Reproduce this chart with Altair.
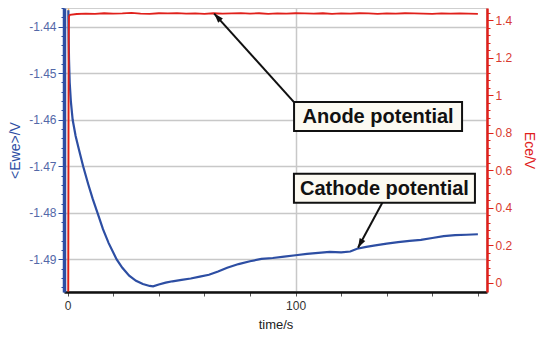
import altair as alt
import pandas as pd

# Cathode potential <Ewe>/V (left axis)
cat_t = [0.3, 0.4, 0.6, 0.9, 1.4, 2.2, 3.5, 5, 6.8, 9, 11, 13.1, 15.5, 18, 21.5, 24, 27, 30, 33, 36,
         37.5, 40, 43, 46, 50, 54, 58, 62, 66, 70, 75, 80, 85, 90, 95, 100, 105, 110, 115, 120,
         124, 127, 131, 135, 140, 145, 150, 155, 160, 165, 170, 175, 180]
cat_v = [-1.4365, -1.441, -1.447, -1.452, -1.456, -1.460, -1.4635, -1.4665, -1.470, -1.4738,
         -1.477, -1.480, -1.4835, -1.4865, -1.490, -1.4918, -1.4935, -1.4946, -1.4953, -1.4957,
         -1.4958, -1.4954, -1.4950, -1.4947, -1.4944, -1.4941, -1.4937, -1.4933, -1.4926, -1.4918,
         -1.4910, -1.4904, -1.4899, -1.4897, -1.4894, -1.4891, -1.4888, -1.4886, -1.4884, -1.4885,
         -1.4883, -1.4877, -1.4873, -1.4870, -1.4866, -1.4863, -1.4860, -1.4858, -1.4854, -1.4850,
         -1.4848, -1.4847, -1.4846]

# Anode potential Ece/V (right axis)
an_t = [0.25, 0.35, 0.45, 0.6, 1, 4, 8, 12, 16, 20, 24, 28, 32, 36, 40, 44, 48, 52, 56, 60,
        64, 68, 72, 76, 80, 84, 88, 92, 96, 100, 104, 108, 112, 116, 120, 124, 128, 132, 136, 140,
        144, 148, 152, 156, 160, 164, 168, 172, 176, 180]
an_v = [-0.045, 0.6, 1.30, 1.42, 1.428, 1.432, 1.434, 1.433, 1.436, 1.434, 1.435, 1.438, 1.434, 1.433,
        1.436, 1.435, 1.437, 1.434, 1.435, 1.433, 1.436, 1.434, 1.435, 1.437, 1.434, 1.436, 1.433,
        1.435, 1.434, 1.436, 1.435, 1.434, 1.436, 1.433, 1.435, 1.434, 1.436, 1.435, 1.433, 1.435,
        1.434, 1.436, 1.435, 1.434, 1.433, 1.435, 1.434, 1.435, 1.434, 1.433]

# Tick values
x_ticks = [0, 20, 40, 60, 80, 100, 120, 140, 160, 180]
left_ticks = [round(-1.496 + 0.002 * i, 3) for i in range(31)]
right_ticks = [round(0.04 * i, 2) for i in range(37)]

# Annotations (in time / <Ewe> units)
ann_label = ["Anode potential", "Cathode potential"]
ann_t = [136.2, 139.0]
ann_v = [-1.4593, -1.4747]
ann_w = [168, 181]
arr_t1 = [99.3, 138.3]
arr_v1 = [-1.4562, -1.4776]
arr_t2 = [64.3, 127.4]
arr_v2 = [-1.4372, -1.4875]
arr_angle = [318, 208]

X_DOM = [-1.6, 184]
L_DOM = [-1.497, -1.436]
R_DOM = [-0.048, 1.464]

BLUE = "#2d4ea3"
RED = "#e0201b"
FONT = "Liberation Sans"

cat = pd.DataFrame({"t": cat_t, "v": cat_v})
an = pd.DataFrame({"t": an_t, "v": an_v})
ann = pd.DataFrame({"label": ann_label, "t": ann_t, "v": ann_v, "w": ann_w})
arr = pd.DataFrame({"t1": arr_t1, "v1": arr_v1, "t2": arr_t2, "v2": arr_v2, "ang": arr_angle})

major_left = "abs(datum.value*100 - round(datum.value*100)) < 0.001"
major_right = "abs(datum.value*5 - round(datum.value*5)) < 0.001"

x_axis = alt.Axis(
    values=x_ticks,
    labelExpr="datum.value % 100 == 0 ? format(datum.value, 'd') : ''",
    title="time/s", titleFont=FONT, titleFontSize=13, titleFontWeight="normal",
    titleColor="#222", titlePadding=7,
    labelFont=FONT, labelFontSize=12, labelColor="#333", labelPadding=4,
    domainColor="#111", domainWidth=2.5, tickColor="#555", tickSize=4, tickWidth=1,
    grid=True,
    gridOpacity={"condition": {"test": "datum.value == 100 || datum.value == 0", "value": 1}, "value": 0},
    gridColor={"condition": {"test": "datum.value == 0", "value": "#f2b266"}, "value": "#c8c8c8"},
    gridWidth=1.5,
)

left_axis = alt.Axis(
    orient="left", values=left_ticks,
    labelExpr=major_left + " ? '-' + format(abs(datum.value), '.2f') : ''",
    title="<Ewe>/V", titleFont=FONT, titleFontSize=14, titleFontWeight="normal",
    titleColor=BLUE, titlePadding=6,
    labelFont=FONT, labelFontSize=12, labelColor="#5468a8", labelPadding=2,
    domainColor=BLUE, domainWidth=3.5, tickColor=BLUE, tickWidth=1,
    tickSize={"condition": {"test": major_left, "value": 6}, "value": 3},
    grid=True,
    gridOpacity={"condition": {"test": major_left, "value": 1}, "value": 0},
    gridColor="#c8c8c8", gridWidth=1.5,
)

right_axis = alt.Axis(
    orient="right", values=right_ticks,
    labelExpr=major_right + " ? format(datum.value, '~g') : ''",
    title="Ece/V", titleFont=FONT, titleFontSize=14, titleFontWeight="normal",
    titleColor=RED, titlePadding=10, titleAngle=90,
    labelFont=FONT, labelFontSize=12, labelColor="#d83a30", labelPadding=2,
    domainColor=RED, domainWidth=2.5, tickColor=RED, tickWidth=1,
    tickSize={"condition": {"test": major_right, "value": 6}, "value": 3},
    grid=False,
)

xs = alt.Scale(domain=X_DOM, nice=False, zero=False)
ls = alt.Scale(domain=L_DOM, nice=False, zero=False)
rs = alt.Scale(domain=R_DOM, nice=False, zero=False)

blue = alt.Chart(cat).mark_line(color=BLUE, strokeWidth=2.2, clip=True).encode(
    x=alt.X("t:Q", scale=xs, axis=x_axis),
    y=alt.Y("v:Q", scale=ls, axis=left_axis),
)

red = alt.Chart(an).mark_line(color=RED, strokeWidth=1.8, clip=True).encode(
    x=alt.X("t:Q", scale=xs, axis=x_axis),
    y=alt.Y("v:Q", scale=rs, axis=right_axis),
)

rule = alt.Chart(arr).mark_rule(color="#111", strokeWidth=2).encode(
    x=alt.X("t1:Q", scale=xs, axis=x_axis),
    y=alt.Y("v1:Q", scale=ls, axis=None),
    x2="t2:Q", y2="v2:Q",
)
head = alt.Chart(arr).mark_point(
    shape="M0,0L-0.5,1.5L0.5,1.5Z", filled=True, color="#111", opacity=1, size=160
).encode(
    x=alt.X("t2:Q", scale=xs, axis=x_axis),
    y=alt.Y("v2:Q", scale=ls, axis=None),
    angle=alt.Angle("ang:Q", scale=None),
)
box = alt.layer(*[
    alt.Chart(ann[ann.label == lab]).mark_rect(
        width=w, height=29, fill="#fcfaf2", stroke="#111", strokeWidth=2
    ).encode(
        x=alt.X("t:Q", scale=xs, axis=x_axis),
        y=alt.Y("v:Q", scale=ls, axis=None),
    )
    for lab, w in zip(ann_label, ann_w)
])
text = alt.Chart(ann).mark_text(
    font=FONT, fontSize=20, fontWeight="bold", color="#111", align="center", baseline="middle", dy=1
).encode(
    x=alt.X("t:Q", scale=xs, axis=x_axis),
    y=alt.Y("v:Q", scale=ls, axis=None),
    text="label:N",
)

annot = alt.layer(rule, head, box, text)

chart = alt.layer(blue, red, annot).resolve_scale(y="independent").properties(
    width=423, height=284,
    background="white",
    autosize=alt.AutoSizeParams(type="none"),
    padding={"left": 56, "top": 0, "right": 50, "bottom": 41},
).configure_view(stroke="#c0c0c0", strokeWidth=1.5)

chart.save("out.html", embed_options={"renderer": "svg", "actions": False})
